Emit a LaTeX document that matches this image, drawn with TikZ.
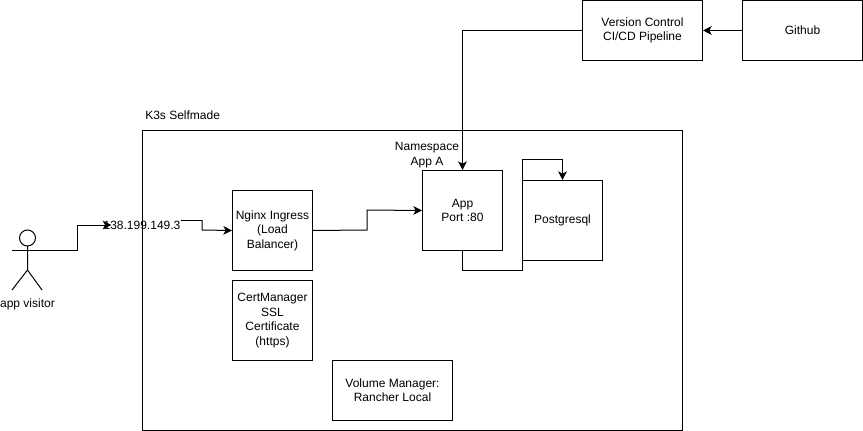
\documentclass[tikz,border=0pt]{standalone}
\usepackage{fontspec}
\setmainfont{Liberation Sans}
\usetikzlibrary{arrows.meta}
\tikzset{
  px/.style={x=0.75pt,y=-0.75pt},
  boxn/.style={draw=black,line width=0.75pt,fill=white,inner sep=0pt,align=center,font=\fontsize{9}{10.8}\selectfont,anchor=north west},
  lbl/.style={inner sep=0pt,align=center,font=\fontsize{9}{10.8}\selectfont},
  conn/.style={draw=black,line width=0.75pt,-{Stealth[length=6.5pt,width=6.5pt,inset=1.8pt]}},
  plain/.style={draw=black,line width=0.75pt}
}
\begin{document}
\begin{tikzpicture}[px]
\useasboundingbox (0,0) rectangle (863,431);
\fill[white] (0,0) rectangle (863,431);
\node[boxn,minimum width=405pt,minimum height=225pt] (k3s) at (142,130) {};
\node[lbl,anchor=west] (k3slabel) at (145,115) {K3s Selfmade};
\node[boxn,minimum width=90pt,minimum height=45pt] (vc) at (582,0) {Version Control\\CI/CD Pipeline};
\node[boxn,minimum width=90pt,minimum height=45pt] (gh) at (742,0) {Github};
\node[boxn,minimum width=60pt,minimum height=60pt] (ng) at (232,190) {Nginx Ingress\\(Load\\Balancer)};
\node[boxn,minimum width=60pt,minimum height=60pt] (cm) at (232,280) {CertManager\\SSL\\Certificate\\(https)};
\node[boxn,minimum width=90pt,minimum height=45pt] (vm) at (332,360) {Volume Manager:\\Rancher Local};
\node[boxn,minimum width=60pt,minimum height=60pt] (pg) at (522,180) {Postgresql};
\node[boxn,minimum width=60pt,minimum height=60pt] (app) at (422,170) {App\\Port :80};
\node[lbl] (ns) at (427,155) {Namespace\\App A};
\node[lbl] (ip) at (142,225) {138.199.149.3};
% actor
\draw[plain,fill=white] (27.5,238) circle (8);
\coordinate (actorhip) at (27.5,270);
\draw[plain] (27.5,246) -- (actorhip) -- (12,290) (actorhip) -- (42,290);
\coordinate (actorl) at (12,250); \coordinate (actorr) at (42,250);
\draw[plain] (actorl) -- (actorr);
\node[lbl] (visitor) at (27.5,304) {app visitor};
% connectors
\draw[conn] (actorr) -- (77,250) -- (77,225) -- ([xshift=6pt]ip.west);
\draw[plain] ([yshift=3.75pt]ip.east) -- (202,220);
\draw[conn] (202,220) -- (202,230) -- (ng.west);
\draw[conn] (ng.east) -- (367,230) -- (367,210) -- (app.west);
\draw[conn] (vc.west) -| (app.north);
\draw[conn] (gh.west) -- (vc.east);
\draw[conn] (app.south) |- (522,270) -- (522,160) -| (pg.north);
\end{tikzpicture}
\end{document}
